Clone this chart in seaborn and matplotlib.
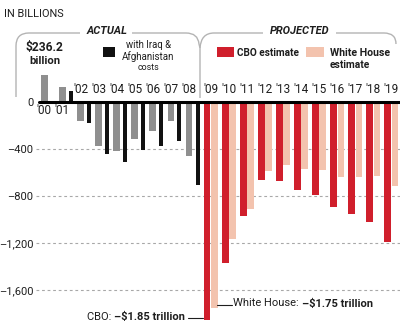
import numpy as np
import pandas as pd
import seaborn as sns
import matplotlib.pyplot as plt
from matplotlib.path import Path
from matplotlib.patches import PathPatch, Rectangle

# Federal budget surplus/deficit, billions of dollars
actual_years = [2000, 2001, 2002, 2003, 2004, 2005, 2006, 2007, 2008]
actual_deficit = [236.2, 128, -155, -375, -412, -316, -245, -158, -454]

war_years = [2001, 2002, 2003, 2004, 2005, 2006, 2007, 2008]
war_deficit = [92, -180, -442, -512, -402, -370, -333, -704]

proj_years = [2009, 2010, 2011, 2012, 2013, 2014, 2015, 2016, 2017, 2018, 2019]
cbo_deficit = [-1850, -1370, -966, -659, -673, -745, -785, -895, -948, -1018, -1189]
wh_deficit = [-1750, -1162, -907, -583, -533, -570, -578, -634, -634, -628, -710]

year_labels = ["'00", "'01", "'02", "'03", "'04", "'05", "'06", "'07", "'08",
               "'09", "'10", "'11", "'12", "'13", "'14", "'15", "'16", "'17",
               "'18", "'19"]
y_ticks = [0, -400, -800, -1200, -1600]
y_tick_labels = ["0", "\u2013400", "\u2013800", "\u20131,200", "\u20131,600"]

GRAY = "#8f8f8f"
BLACK = "#111111"
RED = "#d01f2c"
PINK = "#f3c3ae"
RULE = "#b4b4b4"
INK = "#1e1e1e"

sns.set_theme(style="white")
plt.rcParams["font.family"] = ["Liberation Sans Narrow", "Roboto", "DejaVu Sans"]

W, H = 400, 330
fig = plt.figure(figsize=(W / 100, H / 100), dpi=100)
fig.patch.set_facecolor("white")

# main bar axes; pixel mapping: x = 44.5 + 18.07*(year-2000), y = 102.3 - 0.1175*value
left_px = 36
ax = fig.add_axes([left_px / W, 0, 1 - left_px / W, 1])
px_per_year = 18.07
x0 = 2000 + (left_px - 44.5) / px_per_year
x1 = 2000 + (W - 44.5) / px_per_year
px_per_unit = 0.1175
ytop = 102.3 / px_per_unit
ybot = (102.3 - H) / px_per_unit

df_act = pd.DataFrame({"x": np.array(actual_years, float), "v": actual_deficit})
df_war = pd.DataFrame({"x": np.array(war_years, float) + 0.47, "v": war_deficit})
df_cbo = pd.DataFrame({"x": np.array(proj_years, float), "v": cbo_deficit})
df_wh = pd.DataFrame({"x": np.array(proj_years, float) + 0.40, "v": wh_deficit})

common = dict(x="x", y="v", native_scale=True, saturation=1, linewidth=0,
              errorbar=None, ax=ax, zorder=3)
sns.barplot(data=df_act, color=GRAY, width=0.38, **common)
sns.barplot(data=df_war, color=BLACK, width=0.22, **common)
sns.barplot(data=df_cbo, color=RED, width=0.37, **common)
sns.barplot(data=df_wh, color=PINK, width=0.37, **common)

ax.set_xlim(x0, x1)
ax.set_ylim(ybot, ytop)
ax.set_xlabel("")
ax.set_ylabel("")
ax.set_xticks([])
ax.set_yticks(y_ticks)
ax.set_yticklabels(y_tick_labels, fontsize=8, color=INK)
ax.tick_params(axis="y", length=0, pad=2)
for s in ax.spines.values():
    s.set_visible(False)
ax.set_facecolor("none")

# dashed reference lines and the zero rule
for v in y_ticks[1:]:
    ax.axhline(v, color="#a8a8a8", lw=0.8, ls=(0, (2.5, 2.5)), zorder=1)
ax.axhline(0, xmin=(39 - left_px) / (W - left_px), xmax=1, color="black",
           lw=2.2, zorder=4)

# year labels
all_years = actual_years + proj_years
for yr, lab in zip(all_years, year_labels):
    if yr <= 2001:
        ax.text(yr - 0.05, -68, lab, ha="center", va="center", fontsize=8.5,
                color=INK, zorder=5)
    elif yr <= 2008:
        ax.text(yr, 112, lab, ha="center", va="center", fontsize=8.5,
                color=INK, zorder=5)
    else:
        ax.text(yr + 0.2, 112, lab, ha="center", va="center", fontsize=8.5,
                color=INK, zorder=5)

# overlay in pixel coordinates for headings, brackets and notes
ov = fig.add_axes([0, 0, 1, 1])
ov.set_xlim(0, W)
ov.set_ylim(H, 0)
ov.axis("off")
ov.patch.set_alpha(0)


def bracket(points, codes):
    ov.add_patch(PathPatch(Path(points, codes), fill=False, ec=RULE, lw=1.0))


M, L, C = Path.MOVETO, Path.LINETO, Path.CURVE3
bracket([(16, 97), (16, 46), (16, 33), (29, 33), (80, 33)], [M, L, C, C, L])
bracket([(132, 33), (186, 33), (198, 33), (199, 44), (200, 48), (200, 98)],
        [M, L, C, C, L, L])
bracket([(200, 48), (201, 33), (214, 33), (263, 33)], [M, C, C, L])
bracket([(336, 33), (384, 33), (396, 33), (396, 44)], [M, L, C, C])

# text items with the width (px) each one spans
fitted = []


def label(x, y, s, width, ha="left", cap=10.0, **kw):
    t = ov.text(x, y, s, ha=ha, va="center", fontsize=8, color=INK, **kw)
    fitted.append((t, width, cap))
    return t


label(4, 14, "IN BILLIONS", 60, cap=9)
label(106.5, 31, "ACTUAL", 41, ha="center", fontweight="bold", fontstyle="italic")
label(300, 31, "PROJECTED", 60, ha="center", fontweight="bold", fontstyle="italic")
label(44.5, 47.5, "$236.2", 38, ha="center", fontweight="bold", cap=11)
label(44.5, 60.5, "billion", 31, ha="center", fontweight="bold", cap=11)

ov.add_patch(Rectangle((103, 47), 12, 10, fc=BLACK, ec="none"))
label(148, 45, "with Iraq &", 45, ha="center", cap=8)
label(148, 56.5, "Afghanistan", 53, ha="center", cap=8)
label(148, 67.5, "costs", 22, ha="center", cap=8)

ov.add_patch(Rectangle((217, 47), 16.5, 10, fc=RED, ec="none"))
label(237, 52.5, "CBO estimate", 62, fontweight="bold", cap=9)
ov.add_patch(Rectangle((306, 47), 17.5, 10, fc=PINK, ec="none"))
label(330, 52.5, "White House", 60, fontweight="bold", cap=9)
label(330, 65, "estimate", 40, fontweight="bold", cap=9)

# value notes: a regular lead-in followed by the bold figure
note_size = 8
cbo_a = ov.text(0, 317, "CBO: ", ha="left", va="center", fontsize=note_size, color=INK)
cbo_b = ov.text(0, 317, "\u2013$1.85 trillion", ha="left", va="center",
                fontsize=note_size, fontweight="bold", color=INK)
wh_a = ov.text(233, 303.5, "White House: ", ha="left", va="center",
               fontsize=note_size, color=INK)
wh_b = ov.text(0, 303.5, "\u2013$1.75 trillion", ha="left", va="center",
               fontsize=note_size, fontweight="bold", color=INK)

ov.plot([188, 203], [318, 318], color=INK, lw=0.8)
ov.plot([217, 232], [305, 305], color=INK, lw=0.8)

fig.canvas.draw()
renderer = fig.canvas.get_renderer()
for t, width, cap in fitted:
    w = t.get_window_extent(renderer).width
    t.set_fontsize(min(t.get_fontsize() * width / w, cap))

wa = cbo_a.get_window_extent(renderer).width
wb = cbo_b.get_window_extent(renderer).width
cbo_a.set_x(185 - wa - wb)
cbo_b.set_x(185 - wb)
wa = wh_a.get_window_extent(renderer).width
wh_b.set_x(233 + wa)

fig.savefig("out.png", dpi=100, facecolor="white")
